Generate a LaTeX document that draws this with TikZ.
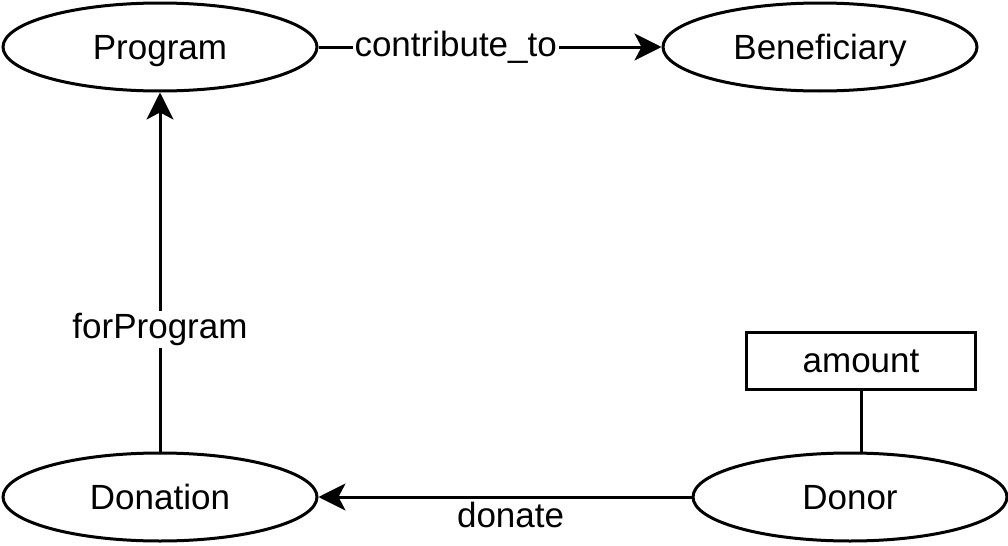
\documentclass[tikz,border=0pt]{standalone}
\usepackage{fontspec}
\setmainfont{Liberation Sans}
\usetikzlibrary{shapes.geometric, arrows.meta}

\begin{document}
\begin{tikzpicture}[x=0.5pt, y=-0.5pt,
    entity/.style={ellipse, draw, line width=1.5pt, minimum width=157pt, minimum height=44pt, inner sep=0pt, text depth=0pt, font=\fontsize{17.5}{21}\selectfont},
    attr/.style={rectangle, draw, line width=1.5pt, minimum width=114.5pt, minimum height=28.5pt, inner sep=0pt, font=\fontsize{17.5}{21}\selectfont},
    rel/.style={line width=1.5pt, -{Stealth[length=13.5pt, width=13.5pt, inset=3.5pt]}},
    lbl/.style={fill=white, inner sep=1pt, font=\fontsize{17.5}{21}\selectfont}]
    \useasboundingbox (0,0) rectangle (1008,546);

    % entities
    \node[entity] (program) at (160, 47) {Program};
    \node[entity] (beneficiary) at (820, 47) {Beneficiary};
    \node[entity] (donation) at (160, 497) {Donation};
    \node[entity] (donor) at (850, 497) {Donor};

    % attribute of Donor
    \node[attr] (amount) at (861, 361) {amount};
    \draw[line width=1.5pt] (amount.south) -- (amount.south |- donor.north);

    % relations
    \draw[rel] (program) -- node[lbl, pos=0.4] {contribute\_to} (beneficiary);
    \draw[rel] (donation) -- node[lbl, pos=0.34] {forProgram} (program);
    \draw[rel] (donor) -- node[lbl, anchor=north, pos=0.485, inner sep=2pt] {donate} (donation);
\end{tikzpicture}
\end{document}
